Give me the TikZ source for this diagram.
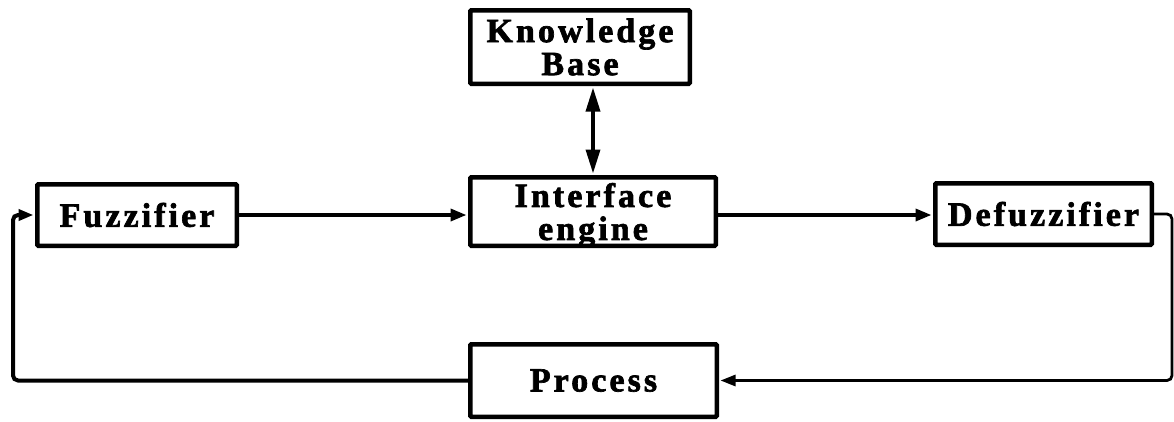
\documentclass[tikz,border=0pt]{standalone}
\usepackage{fontspec}
\setmainfont{Liberation Serif}[LetterSpace=9, BoldFeatures={FakeBold=2}]
\usetikzlibrary{arrows.meta}
\tikzset{
  blk/.style={draw, line width=4.5pt, rounded corners=1pt, align=center,
    font=\fontsize{34}{33}\selectfont\bfseries, inner sep=0pt},
  flow/.style={line width=3.5pt, -{Triangle[length=16pt,width=12pt]}, shorten >=1.5pt},
  both/.style={line width=3.5pt, {Triangle[length=24pt,width=14pt]}-{Triangle[length=24pt,width=14pt]},
    shorten >=1.5pt, shorten <=1.5pt},
  back/.style={rounded corners=5pt, -{Triangle[length=15pt,width=11pt]}, shorten >=1.5pt},
}
\begin{document}
\begin{tikzpicture}[x=1pt,y=-1pt]
\useasboundingbox (0,0) rectangle (1174,421);
% blocks
\node[blk, minimum width=219.5pt, minimum height=73.5pt] (kb) at (580,47) {Knowledge\\Base};
\node[blk, minimum width=245.5pt, minimum height=68.5pt] (ie) at (593,211.5)
  {Interface\\\raisebox{0pt}[\height][0pt]{engine}};
\node[blk, minimum width=199.5pt, minimum height=61.5pt] (fz) at (137,215) {Fuzzifier};
\node[blk, minimum width=216.5pt, minimum height=61.5pt] (dz) at (1043.5,214) {Defuzzifier};
\node[blk, minimum width=246.5pt, minimum height=72.5pt] (pr) at (593.5,380.5) {Process};
\coordinate (lx) at (13,0);
% forward path
\draw[flow] (fz.east) -- (fz.east -| ie.west);
\draw[flow] (ie.east |- fz.east) -- (fz.east -| dz.west);
\draw[both] (ie.north) -- (ie.north |- kb.south);
% feedback loop
\draw[back, line width=2.8pt] (dz.east) -- ++(18,0) |- (pr.east);
\draw[back, line width=4pt] (pr.west) -- (pr.west -| lx) |- (fz.west);
\end{tikzpicture}
\end{document}
